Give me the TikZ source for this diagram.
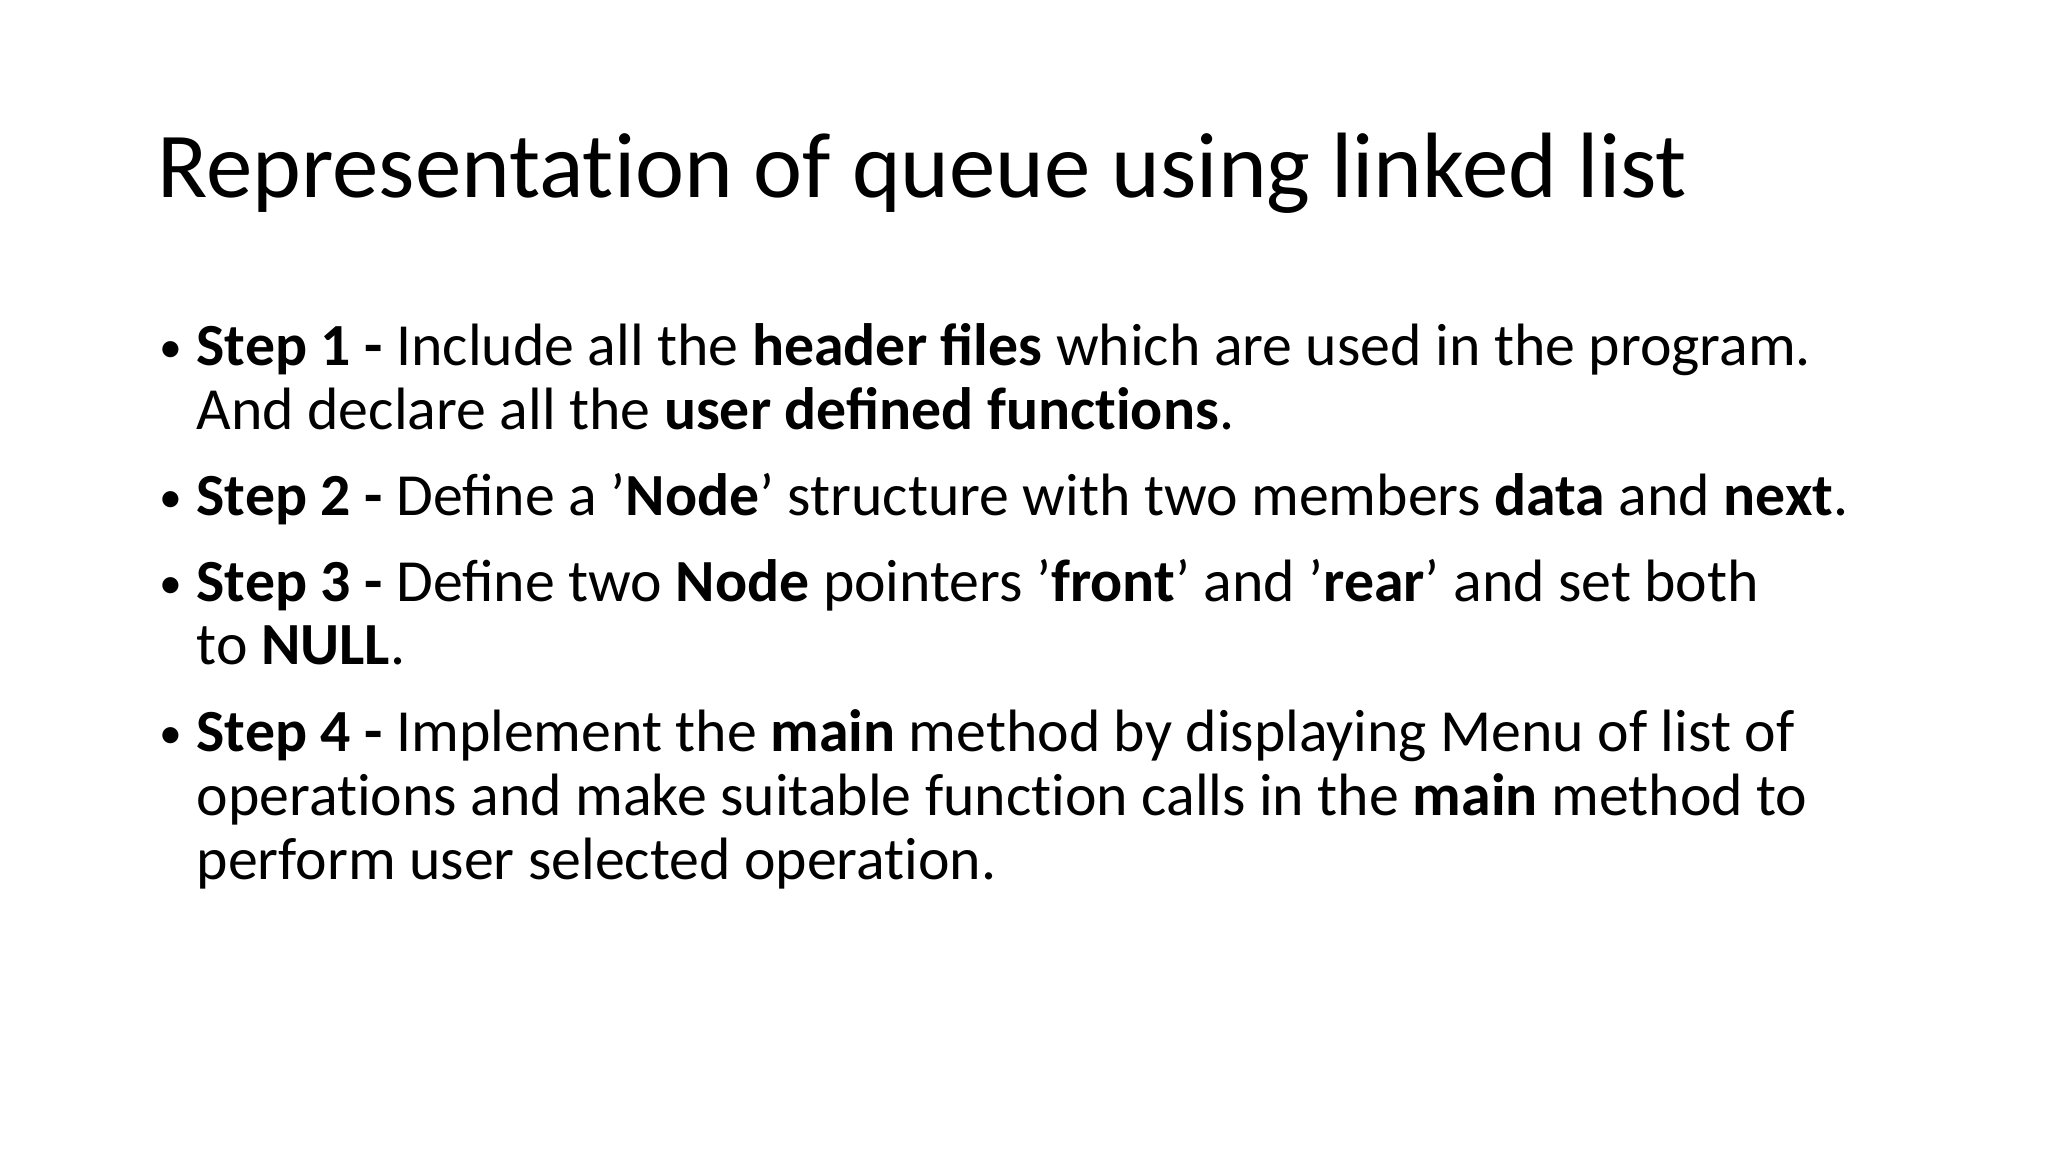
\documentclass[tikz,border=0pt]{standalone}
\usepackage{fontspec}
\setmainfont{Carlito}
\newcommand{\sq}{\symbol{"27}}
\newcommand{\tii}{t\kern0pt i}
\begin{document}
\begin{tikzpicture}[x=0.01cm,y=-0.01cm,
  body/.style={anchor=base west,inner sep=0pt,font=\fontsize{17pt}{22pt}\selectfont},
  bul/.style={anchor=base west,inner sep=0pt,font=\fontsize{13pt}{22pt}\selectfont}]
\useasboundingbox[fill=white] (0,0) rectangle (2048,1152);
\node[anchor=base west,inner sep=0pt,font=\fontsize{26.4pt}{32pt}\selectfont] (title) at (157,198) {Representa\tii on of queue using linked list};
\node[bul] (b1) at (159,363) {•};
\node[body] (l1) at (196,366) {\textbf{Step 1 -} Include all the \textbf{header files} which are used in the program.};
\node[body] (l2) at (196,430) {And declare all the \textbf{user defined func\tii ons}.};
\node[bul] (b2) at (159,513) {•};
\node[body] (l3) at (196,516) {\textbf{Step 2 -} Define a \sq\textbf{Node}\sq{} structure with two members \textbf{data} and \textbf{next}.};
\node[bul] (b3) at (159,598) {•};
\node[body] (l4) at (196,601) {\textbf{Step 3 -} Define two \textbf{Node} pointers \sq\textbf{front}\sq{} and \sq\textbf{rear}\sq{} and set both};
\node[body] (l5) at (196,665) {to \textbf{NULL}.};
\node[bul] (b4) at (159,748) {•};
\node[body] (l6) at (196,751) {\textbf{Step 4 -} Implement the \textbf{main} method by displaying Menu of list of};
\node[body] (l7) at (196,815) {opera\tii ons and make suitable func\tii on calls in the \textbf{main} method to};
\node[body] (l8) at (196,879) {perform user selected opera\tii on.};
\end{tikzpicture}
\end{document}
